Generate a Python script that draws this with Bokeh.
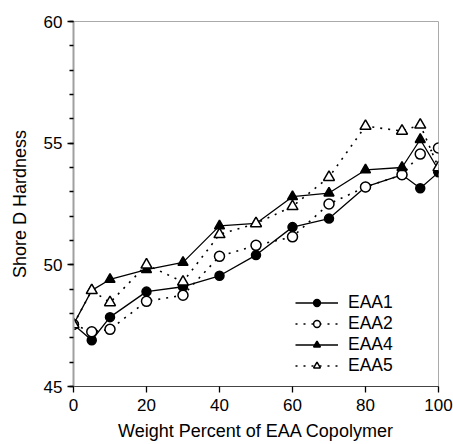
from bokeh.plotting import figure
from bokeh.models import Range1d, FixedTicker, Legend
from bokeh.embed import file_html
from bokeh.resources import INLINE

# Data
wt = [0, 5, 10, 20, 30, 40, 50, 60, 70, 80, 90, 95, 100]
eaa1 = [47.55, 46.9, 47.85, 48.9, 49.1, 49.55, 50.4, 51.55, 51.9, 53.2, 53.7, 53.15, 53.8]
eaa2 = [47.55, 47.25, 47.35, 48.5, 48.75, 50.35, 50.8, 51.15, 52.5, 53.2, 53.7, 54.55, 54.8]
eaa4 = [47.55, 48.95, 49.4, 49.8, 50.1, 51.6, 51.7, 52.8, 52.95, 53.9, 54.0, 55.15, 53.9]
eaa5 = [47.55, 48.95, 48.45, 50.0, 49.3, 51.25, 51.7, 52.4, 53.6, 55.7, 55.5, 55.75, 54.0]
x_ticks = [0, 20, 40, 60, 80, 100]
y_ticks = [45, 50, 55, 60]
y_minor = list(range(45, 61))

FONT = "Liberation Sans"
FS = "17px"
FS_LABEL = "18px"

p = figure(width=453, height=444, output_backend="svg", toolbar_location=None,
           x_range=Range1d(0, 100), y_range=Range1d(45, 60),
           min_border_left=73, min_border_right=15, min_border_top=21, min_border_bottom=58)
p.grid.visible = False
p.outline_line_color = "#aaaaaa"
p.outline_line_width = 1
p.background_fill_color = "white"
p.border_fill_color = "white"

# axes
p.xaxis.ticker = FixedTicker(ticks=x_ticks)
p.yaxis.ticker = FixedTicker(ticks=y_ticks, minor_ticks=y_minor)
for ax in (p.xaxis, p.yaxis):
    ax.major_label_text_font = FONT
    ax.major_label_text_font_size = FS
    ax.major_label_text_color = "black"
    ax.axis_label_text_font = FONT
    ax.axis_label_text_font_size = FS_LABEL
    ax.axis_label_text_font_style = "normal"
    ax.axis_label_text_color = "black"
    ax.major_tick_in = 0
    ax.major_tick_out = 6
    ax.major_tick_line_color = "black"
    ax.major_tick_line_width = 1.3
p.xaxis.minor_tick_line_color = None
p.xaxis.axis_line_color = "#444444"
p.xaxis.axis_line_width = 1.2
p.yaxis.axis_line_color = "#a0a0a0"
p.yaxis.axis_line_width = 2
p.yaxis.minor_tick_in = 0
p.yaxis.minor_tick_out = 4
p.yaxis.minor_tick_line_color = "black"
p.yaxis.minor_tick_line_width = 1.3
p.xaxis.axis_label = "Weight Percent of EAA Copolymer"
p.yaxis.axis_label = "Shore D Hardness"
p.xaxis.major_label_standoff = 6
p.yaxis.major_label_standoff = 5
p.xaxis.axis_label_standoff = 7
p.yaxis.axis_label_standoff = 11

items = []
series = [
    ("EAA1", eaa1, "solid", "circle", "black", 9),
    ("EAA2", eaa2, "2 6", "circle", "white", 10),
    ("EAA4", eaa4, "solid", "triangle", "black", 10),
    ("EAA5", eaa5, "2 6", "triangle", "white", 11),
]
for name, ys, dash, marker, fill, size in series:
    lw = 1.3 if dash == "solid" else 1.6
    l = p.line(wt, ys, line_color="black", line_width=lw, line_dash=dash)
    s = p.scatter(wt, ys, marker=marker, size=size, fill_color=fill,
                  line_color="black", line_width=1.5)
    items.append((name, [l, s]))

legend = Legend(items=items, location=(222, 10))
legend.label_text_font = FONT
legend.label_text_font_size = "17.5px"
legend.label_text_color = "black"
legend.glyph_width = 43
legend.glyph_height = 17
legend.label_height = 17
legend.label_standoff = 10
legend.spacing = 0
legend.padding = 0
legend.margin = 0
legend.border_line_color = None
legend.background_fill_alpha = 0
p.add_layout(legend)

open("out.html", "w").write(file_html(p, INLINE))
